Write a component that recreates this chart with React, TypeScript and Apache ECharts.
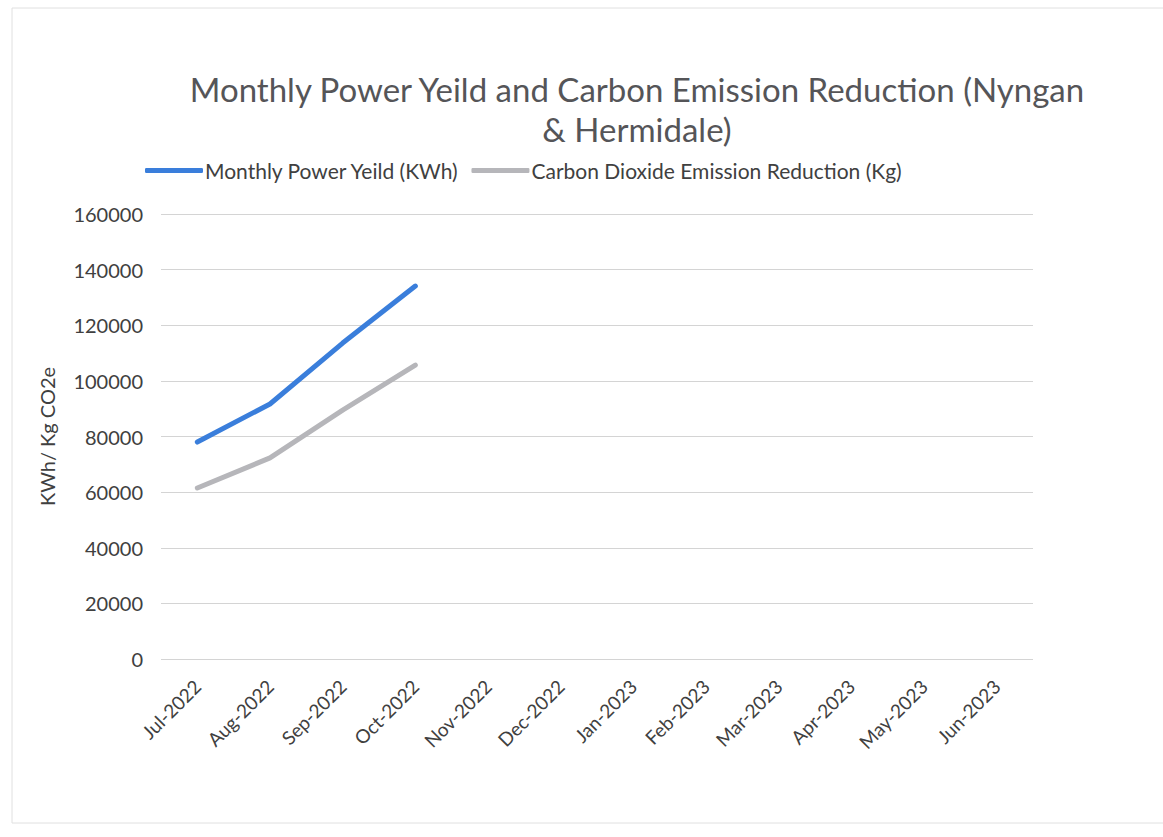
import React, { useEffect, useRef } from "react";
import * as echarts from "echarts";

const months = ["Jul-2022", "Aug-2022", "Sep-2022", "Oct-2022", "Nov-2022", "Dec-2022", "Jan-2023", "Feb-2023", "Mar-2023", "Apr-2023", "May-2023", "Jun-2023"];
const powerYield = [78000, 91700, 113600, 134100, null, null, null, null, null, null, null, null];
const co2Reduction = [61500, 72300, 89500, 105700, null, null, null, null, null, null, null, null];

const FONT = "Lato, 'Open Sans', sans-serif";

export default function App() {
  const ref = useRef<HTMLDivElement>(null);
  useEffect(() => {
    const chart = echarts.init(ref.current!, undefined, { renderer: "svg" });
    chart.setOption({
      animation: false,
      backgroundColor: "#ffffff",
      title: {
        text: "Monthly Power Yeild and Carbon Emission Reduction (Nyngan\n& Hermidale)",
        left: 632,
        textAlign: "center",
        top: 64,
        textStyle: { fontFamily: FONT, fontSize: 33, fontWeight: "normal", color: "#555558", lineHeight: 40 },
      },
      legend: {
        top: 155,
        left: 140,
        itemWidth: 58,
        itemHeight: 5,
        itemGap: 12,
        icon: "roundRect",
        textStyle: { fontFamily: FONT, fontSize: 21, color: "#404040", padding: [0, 0, 0, -3] },
        data: ["Monthly Power Yeild (KWh)", "Carbon Dioxide Emission Reduction (Kg)"],
      },
      grid: { left: 161, right: 130, top: 214, bottom: 178 },
      xAxis: {
        type: "category",
        data: months,
        boundaryGap: true,
        axisLine: { show: false },
        axisTick: { show: false },
        axisLabel: { rotate: 45, fontFamily: FONT, fontSize: 19, color: "#404040", margin: 24, interval: 0 },
      },
      yAxis: {
        type: "value",
        min: 0,
        max: 160000,
        interval: 20000,
        name: "KWh/ Kg CO2e",
        nameLocation: "middle",
        nameRotate: 90,
        nameGap: 104,
        nameTextStyle: { fontFamily: FONT, fontSize: 20, color: "#404040" },
        axisLine: { show: false },
        axisTick: { show: false },
        axisLabel: { fontFamily: FONT, fontSize: 20, color: "#404040", margin: 18, formatter: (v: number) => String(v) },
        splitLine: { lineStyle: { color: "#d4d4d4", width: 1 } },
      },
      series: [
        {
          name: "Monthly Power Yeild (KWh)",
          type: "line",
          data: powerYield,
          symbol: "none",
          color: "#3a7edb",
          lineStyle: { width: 5, cap: "round", join: "round" },
        },
        {
          name: "Carbon Dioxide Emission Reduction (Kg)",
          type: "line",
          data: co2Reduction,
          symbol: "none",
          color: "#b6b6ba",
          lineStyle: { width: 5, cap: "round", join: "round" },
        },
      ],
      graphic: [
        {
          type: "rect",
          shape: { x: 12, y: 8, width: 1160, height: 815 },
          style: { fill: "none", stroke: "#e0e0e0", lineWidth: 1 },
          silent: true,
        },
      ],
    });
    return () => chart.dispose();
  }, []);
  return <div ref={ref} style={{ position: "absolute", left: 0, top: 0, width: 1163, height: 837 }} />;
}
